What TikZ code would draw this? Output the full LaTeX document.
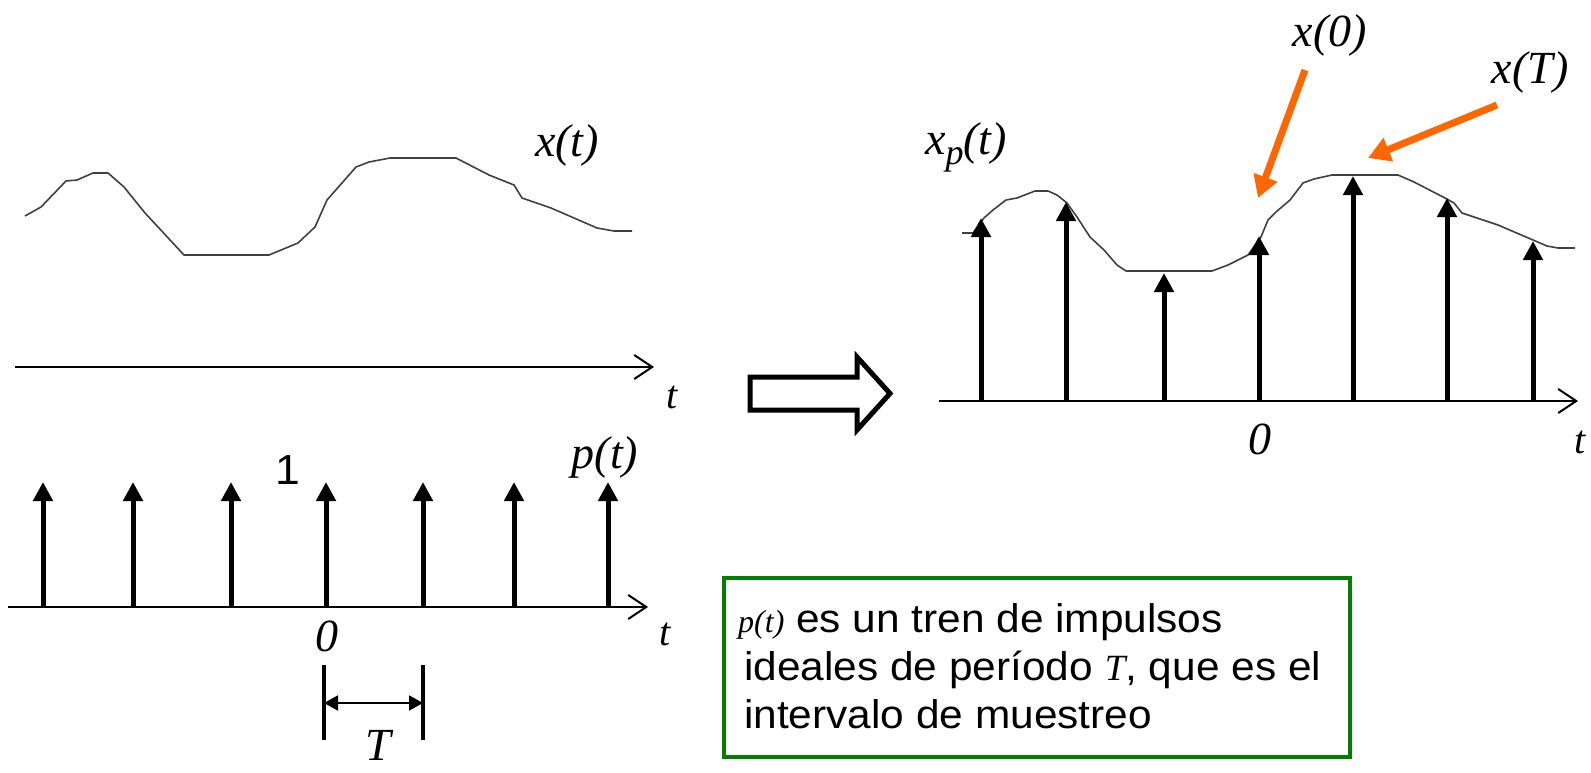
\documentclass[tikz,border=0pt]{standalone}
\usepackage{fontspec}
\setmainfont{Liberation Serif}
\newfontfamily\notefont{Liberation Sans}[FakeStretch=1.06]
\usetikzlibrary{arrows.meta}

\definecolor{boxgreen}{RGB}{0,128,0}
\definecolor{markorange}{RGB}{255,102,0}

\begin{document}
\begin{tikzpicture}[x=1pt, y=-1pt,
    axis/.style={line width=2pt, -{Straight Barb[length=18pt,width=24pt,line width=2pt]}},
    signal/.style={line width=1.6pt, black!75, line join=round},
    impulse/.style={line width=5pt, -{Triangle[length=19pt,width=19pt]}},
    lbl/.style={inner sep=0pt, font=\fontsize{46}{50}\selectfont\itshape},
    tlbl/.style={inner sep=0pt, font=\fontsize{40}{44}\selectfont\itshape},
    marker/.style={line width=7pt, markorange, -{Triangle[length=22pt,width=24pt]}},
    noteline/.style={inner sep=0pt, anchor=base west, font=\notefont\fontsize{40}{44}\selectfont}]
    \useasboundingbox (0,0) rectangle (1591,773);

    % continuous signal x(t)
    \draw[signal] (25,216) -- (41,207) -- (66,181) -- (77,180) -- (93,173) -- (108,173)
        -- (124,187) -- (145,213) -- (158,227) -- (184,255) -- (269,255) -- (298,243)
        -- (315,227) -- (327,200) -- (356,167) -- (369,162) -- (390,158) -- (456,158)
        -- (489,175) -- (514,185) -- (522,198) -- (551,208) -- (597,228) -- (614,231) -- (632,231);
    \draw[axis] (15,367) -- (654,367);
    \node[lbl] (xt) at (567,145) {x(t)};
    \node[tlbl] (t1) at (672,397) {t};

    % impulse train p(t)
    \foreach \x in {43,133,231,326,423,514,608}
        \draw[impulse] (\x,607) -- (\x,482);
    \draw[axis] (8,607) -- (648,607);
    \node[inner sep=0pt, font=\notefont\fontsize{42}{46}\selectfont] (one) at (288,470) {1};
    \node[lbl] (pt) at (605,457) {p(t)};
    \node[lbl] (zero1) at (327,636) {0};
    \node[tlbl] (t2) at (665,634) {t};

    % period T
    \coordinate (Ta) at (324,703);
    \coordinate (Tb) at (423,703);
    \draw[line width=4pt] (324,665) -- (324,740);
    \draw[line width=4pt] (423,665) -- (423,740);
    \draw[line width=2pt, {Triangle[length=14pt,width=15pt]}-{Triangle[length=14pt,width=15pt]}] (Ta) -- (Tb);
    \node[lbl] (Tl) at (378,745) {T};

    % hollow arrow
    \draw[line width=5pt, line join=miter] (750,377) -- (857,377) -- (857,357) -- (890,393.5)
        -- (857,430) -- (857,410) -- (750,410) -- cycle;

    % sampled signal x_p(t)
    \draw[signal] (962,233) -- (973,233) -- (984,218) -- (993,210) -- (1006,200) -- (1017,198)
        -- (1035,191) -- (1048,191) -- (1057,195) -- (1067,203) -- (1077,217) -- (1090,237)
        -- (1104,250) -- (1117,265) -- (1126,271) -- (1212,271) -- (1228,265) -- (1248,255)
        -- (1261,237) -- (1268,220) -- (1276,212) -- (1290,200) -- (1303,183) -- (1314,179)
        -- (1332,175) -- (1398,175) -- (1414,182) -- (1445,198) -- (1454,203) -- (1462,213)
        -- (1498,225) -- (1533,240) -- (1547,246) -- (1558,248) -- (1575,248);
    \foreach \x/\y in {981/218, 1066/202, 1164/273, 1259/236, 1353/176, 1447/198, 1533/241}
        \draw[impulse] (\x,401) -- (\x,\y);
    \draw[axis] (939,401) -- (1578,401);
    \node[lbl] (xpt) at (966,147) {x\raisebox{-10pt}{\fontsize{36}{36}\selectfont p}(t)};
    \node[lbl] (zero2) at (1260,439) {0};
    \node[tlbl] (t3) at (1580,442) {t};

    % sample markers
    \node[lbl] (x0) at (1330,35) {x(0)};
    \node[lbl] (xT) at (1530,72) {x(T)};
    \coordinate (x0tail) at (1305,70);
    \coordinate (x0tip) at (1258,198);
    \coordinate (xTtail) at (1497,105);
    \coordinate (xTtip) at (1368,158);
    \draw[marker] (x0tail) -- (x0tip);
    \draw[marker] (xTtail) -- (xTtip);

    % note
    \node[draw=boxgreen, line width=4pt, minimum width=626pt, minimum height=179pt, inner sep=0pt] (note) at (1037,667.5) {};
    \node[noteline] (l1) at (738,632) {{\fontspec{Liberation Serif}\fontsize{32}{34}\selectfont\itshape p(t)} es un tren de impulsos};
    \node[noteline] (l2) at (744,680) {ideales de período {\fontspec{Liberation Serif}\fontsize{37}{40}\selectfont\itshape T}, que es el};
    \node[noteline] (l3) at (744,728) {intervalo de muestreo};
\end{tikzpicture}
\end{document}
